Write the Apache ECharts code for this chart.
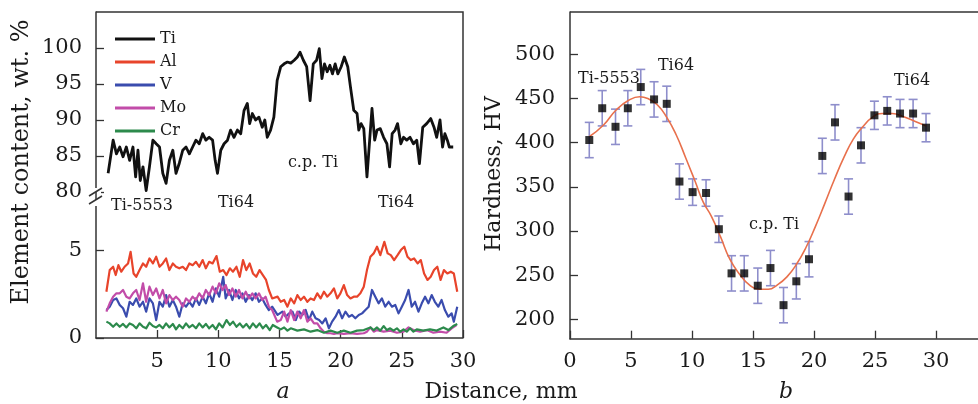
<!DOCTYPE html>
<html>
<head>
<meta charset="utf-8">
<script src="https://cdn.jsdelivr.net/npm/echarts@6/dist/echarts.min.js"></script>
<style>html,body{margin:0;padding:0;background:#fff}#c{width:978px;height:404px}</style>
</head>
<body>
<div id="c"></div>
<script>
// ---------- data: panel a (element content, wt.%) ----------
const tiX = [0.99,1.4,1.67,1.94,2.21,2.48,2.75,3.02,3.24,3.43,3.62,3.84,4.1,4.37,4.65,4.92,5.19,5.46,5.73,6.0,6.28,6.54,6.81,7.09,7.36,7.63,7.9,8.17,8.44,8.72,8.98,9.25,9.53,9.74,9.93,10.2,10.47,10.75,11.0,11.28,11.56,11.83,12.1,12.37,12.56,12.78,13.05,13.32,13.59,13.8,14.0,14.27,14.54,14.81,
  15.1,15.38,15.65,15.92,16.2,16.46,16.68,16.95,17.22,17.5,17.76,18.03,18.25,18.47,18.68,18.9,19.12,19.33,19.55,19.77,20.04,20.3,20.58,20.8,21.07,21.34,21.48,21.67,21.89,22.15,22.37,22.56,22.78,22.97,23.24,23.51,23.78,24.0,24.21,24.45,24.65,24.92,25.14,25.4,25.67,25.95,26.22,26.44,26.71,27.03,27.36,27.63,27.85,28.12,28.33,28.52,28.72,28.88,29.2];
const tiY = [82.6,87.2,85.3,86.25,84.9,86.25,84.4,86.25,82.1,85.8,81.6,83.5,80.2,83.5,87.2,86.7,86.25,82.6,81.2,84.4,85.8,82.6,84.0,85.8,86.25,85.3,86.25,87.2,86.7,88.1,87.2,87.6,87.2,84.4,82.6,85.8,86.7,87.2,88.6,87.6,88.6,88.1,91.3,92.3,89.5,90.9,90.0,90.4,89.0,90.0,87.6,88.6,90.4,95.5,
  97.4,97.8,98.05,97.9,98.3,98.75,99.4,98.3,97.4,92.7,97.8,98.3,99.9,95.75,97.8,96.7,97.6,96.4,97.8,96.4,97.4,98.75,97.4,94.6,91.35,90.9,88.6,89.5,88.8,82.1,87.2,91.6,87.2,88.6,88.8,87.6,86.7,83.5,88.1,88.6,89.5,86.7,87.6,87.2,87.6,86.7,87.2,83.95,89.0,89.5,90.2,89.0,87.6,90.0,86.25,88.1,87.2,86.25,86.25];

const alX = [0.85,1.12,1.4,1.61,1.83,2.07,2.34,2.62,2.83,3.07,3.29,3.56,3.84,4.1,4.37,4.65,4.92,5.19,5.46,5.73,6.0,6.28,6.54,6.81,7.09,7.36,7.63,7.9,8.17,8.44,8.72,8.98,9.25,9.53,9.85,10.12,10.4,10.67,10.94,11.2,11.48,11.75,12.02,12.29,12.56,12.83,13.1,13.37,13.64,13.9,14.13,14.4,14.84,15.1,15.38,15.65,15.92,16.2,16.46,16.73,17.0,17.28,17.54,17.82,18.09,18.36,18.63,18.9,19.17,19.45,19.72,19.98,20.26,20.53,20.8,21.07,21.34,21.61,21.89,22.15,22.43,22.7,22.97,23.24,23.57,23.84,24.1,24.37,24.65,24.92,25.2,25.46,25.73,26.0,26.29,26.55,26.82,27.1,27.36,27.63,27.9,28.17,28.44,28.72,29.0,29.25,29.53];
const alY = [2.63,3.86,4.05,3.58,4.14,3.77,4.05,4.24,4.9,3.67,3.48,3.86,4.24,4.05,4.52,4.24,4.62,4.05,4.24,4.52,3.86,4.24,4.05,3.96,4.05,3.86,4.24,4.14,4.33,4.05,4.43,3.96,4.33,4.24,4.66,3.77,3.86,3.58,3.96,3.77,4.05,3.48,4.43,3.86,4.24,3.67,3.48,3.86,3.58,3.3,2.73,2.25,2.35,2.06,2.16,1.78,2.25,1.97,2.44,2.16,2.35,2.06,2.25,2.16,2.54,2.25,2.63,2.35,2.54,2.82,2.25,2.54,3.01,2.44,2.25,2.35,2.35,2.54,2.92,3.86,4.62,4.81,5.19,4.71,5.47,4.81,4.71,4.43,4.71,5.0,5.19,4.62,4.43,4.52,4.24,4.43,3.67,3.3,3.48,3.86,4.05,3.3,3.86,3.67,3.77,3.67,2.63];

const vX = [0.85,1.12,1.4,1.67,1.94,2.21,2.48,2.75,3.02,3.29,3.56,3.84,4.1,4.37,4.65,4.92,5.19,5.46,5.73,6.0,6.28,6.54,6.81,7.09,7.36,7.63,7.9,8.17,8.44,8.72,8.98,9.25,9.53,9.8,10.07,10.4,10.6,10.88,11.15,11.42,11.69,11.97,12.24,12.5,12.78,13.05,13.32,13.59,13.86,14.13,14.4,14.84,15.24,15.5,15.79,16.06,16.33,16.6,16.87,17.14,17.41,17.68,17.95,18.24,18.5,18.77,19.04,19.3,19.58,19.85,20.12,20.39,20.67,20.93,21.2,21.48,21.75,22.02,22.29,22.56,22.83,23.1,23.37,23.64,23.92,24.19,24.46,24.73,25.0,25.27,25.55,25.81,26.08,26.36,26.63,26.9,27.17,27.44,27.7,27.98,28.25,28.52,28.8,29.07,29.25,29.53];
const vY = [1.59,1.78,2.16,2.25,1.88,1.69,1.21,2.06,1.88,2.25,1.78,2.06,1.5,2.25,1.97,1.02,2.06,1.78,2.44,1.78,2.16,1.78,1.21,1.97,1.78,2.06,1.78,2.25,1.88,2.35,1.97,2.54,2.06,2.82,2.35,3.48,2.25,2.73,2.16,2.73,2.25,2.54,2.06,2.44,2.16,2.54,2.06,2.25,1.88,1.59,1.78,1.31,1.5,1.21,1.4,1.5,1.02,1.5,1.31,1.59,1.02,1.5,1.12,1.02,0.83,1.12,0.55,0.93,1.21,1.59,1.12,1.5,1.21,1.31,1.12,1.31,1.4,1.59,1.78,2.73,2.35,1.97,2.25,1.78,2.06,1.78,1.88,1.4,1.78,2.16,2.73,1.78,2.06,1.5,1.97,2.35,1.97,2.44,2.06,1.78,2.16,1.59,1.21,1.4,0.93,1.78];

const moX = [0.85,1.12,1.4,1.67,1.94,2.21,2.48,2.75,3.02,3.29,3.56,3.84,4.1,4.37,4.65,4.92,5.19,5.46,5.73,6.0,6.28,6.54,6.81,7.09,7.36,7.63,7.9,8.17,8.44,8.72,8.98,9.25,9.53,9.8,10.07,10.35,10.6,10.88,11.15,11.42,11.69,11.97,12.24,12.5,12.78,13.05,13.32,13.59,13.86,14.13,14.4,14.81,15.1,15.38,15.65,15.92,16.2,16.46,16.73,17.0,17.28,17.54,17.82,18.09,18.36,18.63,18.9,19.17,19.45,19.72,20.26,20.8,21.34,21.89,22.15,22.43,22.7,22.97,23.51,24.05,24.6,25.14,25.55,25.95,26.5,27.03,27.58,28.12,28.66,29.07,29.47];
const moY = [1.5,1.97,2.35,2.54,2.54,2.73,2.35,2.25,2.54,2.73,2.16,3.11,2.06,2.92,2.44,2.82,2.25,2.73,1.97,2.44,2.16,2.35,2.16,1.78,2.25,2.06,2.35,2.16,2.54,2.25,2.73,2.44,2.92,2.54,3.11,2.73,3.01,2.44,2.82,2.35,2.73,2.25,2.63,2.25,2.54,2.25,2.54,2.16,2.35,1.78,1.59,0.93,1.02,1.5,0.93,1.59,1.02,1.5,1.12,1.59,0.93,1.12,0.83,0.83,0.55,0.36,0.27,0.27,0.23,0.27,0.23,0.27,0.23,0.27,0.36,0.6,0.36,0.45,0.36,0.42,0.3,0.36,0.6,0.45,0.36,0.45,0.3,0.36,0.3,0.55,0.74];

const crX = [0.85,1.12,1.4,1.67,1.94,2.21,2.48,2.75,3.02,3.29,3.56,3.84,4.1,4.37,4.65,4.92,5.19,5.46,5.73,6.0,6.28,6.54,6.81,7.09,7.36,7.63,7.9,8.17,8.44,8.72,8.98,9.25,9.53,9.8,10.07,10.35,10.67,10.94,11.2,11.48,11.75,12.02,12.29,12.56,12.83,13.1,13.37,13.64,13.9,14.2,14.45,14.81,15.1,15.38,15.65,15.92,16.46,17.0,17.54,18.09,18.63,19.17,19.72,20.26,20.8,21.34,21.89,22.43,22.7,22.97,23.24,23.51,23.78,24.05,24.32,24.6,24.87,25.14,25.4,25.67,25.95,26.22,26.76,27.3,27.85,28.4,28.8,29.2,29.53];
const crY = [0.93,0.83,0.64,0.83,0.64,0.8,0.6,0.83,0.74,0.55,0.83,0.64,0.55,0.87,0.68,0.6,0.74,0.55,0.83,0.6,0.8,0.49,0.74,0.55,0.83,0.6,0.74,0.55,0.83,0.6,0.8,0.55,0.74,0.49,0.83,0.6,1.02,0.74,0.93,0.64,0.83,0.6,0.8,0.55,0.83,0.6,0.83,0.55,0.74,0.45,0.74,0.6,0.49,0.6,0.42,0.55,0.42,0.49,0.36,0.45,0.3,0.42,0.3,0.42,0.3,0.42,0.45,0.6,0.45,0.6,0.42,0.68,0.45,0.55,0.42,0.55,0.36,0.49,0.36,0.55,0.36,0.49,0.42,0.49,0.42,0.6,0.45,0.68,0.8];

// ---------- data: panel b (hardness, HV) ----------
const hvX = [1.58,2.64,3.73,4.74,5.8,6.89,7.93,8.97,10.05,11.15,12.2,13.24,14.28,15.39,16.43,17.5,18.55,19.59,20.68,21.72,22.83,23.85,24.95,26.0,27.05,28.12,29.18];
const hvY = [403,439,418,439,463,449,444,356,344,343,302,252,252,238,258,216,243,268,385,423,339,397,431,436,433,433,417];
const hvErr = [20,20,20,20,20,20,20,20,15,15,15,20,20,20,20,20,20,20,20,20,20,20,16,16,16,16,16];
const fitX = [1.6,2.75,3.78,4.81,5.72,6.37,7.15,7.92,8.7,9.48,10.26,10.91,11.57,12.35,13.1,13.9,14.7,15.47,16.25,17.0,17.78,18.55,19.33,20.11,20.88,21.66,22.44,23.22,24.0,24.8,25.6,26.4,27.4,28.3,29.2];
const fitY = [407,420,437,448,452,450,443,429,409,383,356,333,317,293,268,251,239,234,234,239,248,262,281,305,331,358,383,404,418,429,433,433,429,424,419];

// ---------- tick labels ----------
const aXTicks = [5,10,15,20,25,30];
const aYTopTicks = [80,85,90,95,100];
const aYBotTicks = [0,5];
const bXTicks = [0,5,10,15,20,25,30];
const bYTicks = [200,250,300,350,400,450,500];

const zip = (xs, ys) => xs.map((x, i) => [x, ys[i]]).filter(p => p[1] !== undefined);

const FONT = 'DejaVu Serif';
const AX = '#333';
const TXT = '#1a1a1a';

function valAxis(grid, min, max, ticks, margin, extra) {
  return Object.assign({
    gridIndex: grid, type: 'value', min: min, max: max,
    axisLine: { show: true, onZero: false, lineStyle: { color: AX, width: 1.5 } },
    axisTick: { show: true, inside: true, length: 8, customValues: ticks, lineStyle: { color: AX, width: 1.3 } },
    axisLabel: { customValues: ticks, margin: margin, fontSize: 21, fontFamily: FONT, color: TXT },
    splitLine: { show: false }
  }, extra || {});
}

const chart = echarts.init(document.getElementById('c'), null, { renderer: 'canvas' });

const lineS = (name, xs, ys, color, w, gi) => ({
  name: name, type: 'line', xAxisIndex: gi, yAxisIndex: gi, data: zip(xs, ys),
  showSymbol: false, symbol: 'none', smooth: false, color: color,
  lineStyle: { color: color, width: w, join: 'round' }, silent: true, z: 3
});

const errData = hvX.map((x, i) => [x, hvY[i] - hvErr[i], hvY[i] + hvErr[i]]);

const option = {
  animation: false,
  backgroundColor: '#fff',
  grid: [
    { left: 96, top: 12, width: 367, height: 180 },
    { left: 96, top: 192, width: 367, height: 146 },
    { left: 570, top: 12, width: 430, height: 326.7 }
  ],
  xAxis: [
    { gridIndex: 0, type: 'value', min: 0, max: 30, show: false },
    valAxis(1, 0, 30, aXTicks, 13),
    valAxis(2, 0, 33.44, bXTicks, 12)
  ],
  yAxis: [
    valAxis(0, 80, 105, aYTopTicks, 14),
    valAxis(1, 0, 8.3, aYBotTicks, 14),
    valAxis(2, 178, 548, bYTicks, 15)
  ],
  legend: {
    data: ['Ti', 'Al', 'V', 'Mo', 'Cr'],
    orient: 'vertical', left: 115, top: 31, padding: 0,
    itemWidth: 40, itemHeight: 3, itemGap: 7, icon: 'rect',
    textStyle: { fontFamily: FONT, fontSize: 16, color: TXT, lineHeight: 16 },
    selectedMode: false
  },
  series: [
    lineS('Ti', tiX, tiY, '#111111', 2.8, 0),
    lineS('Al', alX, alY, '#e8442b', 2.2, 1),
    lineS('V', vX, vY, '#3a4cae', 2.2, 1),
    lineS('Mo', moX, moY, '#c24ca9', 2.2, 1),
    lineS('Cr', crX, crY, '#2c8a4c', 2.2, 1),
    {
      type: 'custom', xAxisIndex: 2, yAxisIndex: 2, data: errData, silent: true, z: 2,
      encode: { x: 0, y: [1, 2] },
      renderItem: function (params, api) {
        const x = api.value(0);
        const pLo = api.coord([x, api.value(1)]);
        const pHi = api.coord([x, api.value(2)]);
        const w = 4.5;
        const st = { stroke: '#8e8ecb', lineWidth: 1.6 };
        return {
          type: 'group', children: [
            { type: 'line', shape: { x1: pHi[0], y1: pHi[1], x2: pLo[0], y2: pLo[1] }, style: st },
            { type: 'line', shape: { x1: pHi[0] - w, y1: pHi[1], x2: pHi[0] + w, y2: pHi[1] }, style: st },
            { type: 'line', shape: { x1: pLo[0] - w, y1: pLo[1], x2: pLo[0] + w, y2: pLo[1] }, style: st }
          ]
        };
      }
    },
    {
      type: 'line', xAxisIndex: 2, yAxisIndex: 2, data: zip(fitX, fitY), smooth: 0.5,
      showSymbol: false, symbol: 'none', lineStyle: { color: '#e8704c', width: 1.6 }, silent: true, z: 3
    },
    {
      type: 'scatter', xAxisIndex: 2, yAxisIndex: 2, data: zip(hvX, hvY),
      symbol: 'rect', symbolSize: 8, itemStyle: { color: '#000' }, silent: true, z: 4
    }
  ],
  graphic: [
    // frames
    { type: 'polyline', shape: { points: [[96, 12], [463, 12], [463, 338]] }, style: { stroke: AX, lineWidth: 1.5, fill: null }, z: 10 },
    { type: 'line', shape: { x1: 570, y1: 12, x2: 978, y2: 12 }, style: { stroke: AX, lineWidth: 1.5 }, z: 10 },
    // axis break
    { type: 'rect', shape: { x: 91, y: 188, width: 10, height: 18 }, style: { fill: '#fff' }, z: 20 },
    { type: 'line', shape: { x1: 89, y1: 196, x2: 102, y2: 188 }, style: { stroke: AX, lineWidth: 1.5 }, z: 21 },
    { type: 'line', shape: { x1: 89, y1: 204, x2: 102, y2: 196 }, style: { stroke: AX, lineWidth: 1.5 }, z: 21 },
    { type: 'line', shape: { x1: 96, y1: 192, x2: 96, y2: 200 }, style: { stroke: AX, lineWidth: 1.5 }, z: 21 },
    // axis names
    { type: 'text', x: 22, y: 162, rotation: Math.PI / 2, style: { text: 'Element content, wt. %', font: '24px "DejaVu Serif"', fill: TXT, textAlign: 'center', textVerticalAlign: 'middle' }, z: 10 },
    { type: 'text', x: 494, y: 174, rotation: Math.PI / 2, style: { text: 'Hardness, HV', font: '22px "DejaVu Serif"', fill: TXT, textAlign: 'center', textVerticalAlign: 'middle' }, z: 10 },
    { type: 'text', x: 501, y: 392, style: { text: 'Distance, mm', font: '22px "DejaVu Serif"', fill: TXT, textAlign: 'center', textVerticalAlign: 'middle' }, z: 10 },
    { type: 'text', x: 283, y: 392, style: { text: 'a', font: 'italic 22px "DejaVu Serif"', fill: TXT, textAlign: 'center', textVerticalAlign: 'middle' }, z: 10 },
    { type: 'text', x: 786, y: 392, style: { text: 'b', font: 'italic 22px "DejaVu Serif"', fill: TXT, textAlign: 'center', textVerticalAlign: 'middle' }, z: 10 },
    // annotations panel a
    { type: 'text', x: 313, y: 163, style: { text: 'c.p. Ti', font: '16px "DejaVu Serif"', fill: TXT, textAlign: 'center', textVerticalAlign: 'middle' }, z: 10 },
    { type: 'text', x: 142, y: 206, style: { text: 'Ti-5553', font: '16px "DejaVu Serif"', fill: TXT, textAlign: 'center', textVerticalAlign: 'middle' }, z: 10 },
    { type: 'text', x: 236, y: 203, style: { text: 'Ti64', font: '16px "DejaVu Serif"', fill: TXT, textAlign: 'center', textVerticalAlign: 'middle' }, z: 10 },
    { type: 'text', x: 396, y: 203, style: { text: 'Ti64', font: '16px "DejaVu Serif"', fill: TXT, textAlign: 'center', textVerticalAlign: 'middle' }, z: 10 },
    // annotations panel b
    { type: 'text', x: 609, y: 79, style: { text: 'Ti-5553', font: '16px "DejaVu Serif"', fill: TXT, textAlign: 'center', textVerticalAlign: 'middle' }, z: 10 },
    { type: 'text', x: 676, y: 66, style: { text: 'Ti64', font: '16px "DejaVu Serif"', fill: TXT, textAlign: 'center', textVerticalAlign: 'middle' }, z: 10 },
    { type: 'text', x: 912, y: 81, style: { text: 'Ti64', font: '16px "DejaVu Serif"', fill: TXT, textAlign: 'center', textVerticalAlign: 'middle' }, z: 10 },
    { type: 'text', x: 774, y: 225, style: { text: 'c.p. Ti', font: '16px "DejaVu Serif"', fill: TXT, textAlign: 'center', textVerticalAlign: 'middle' }, z: 10 }
  ]
};
chart.setOption(option);
</script>
</body>
</html>
